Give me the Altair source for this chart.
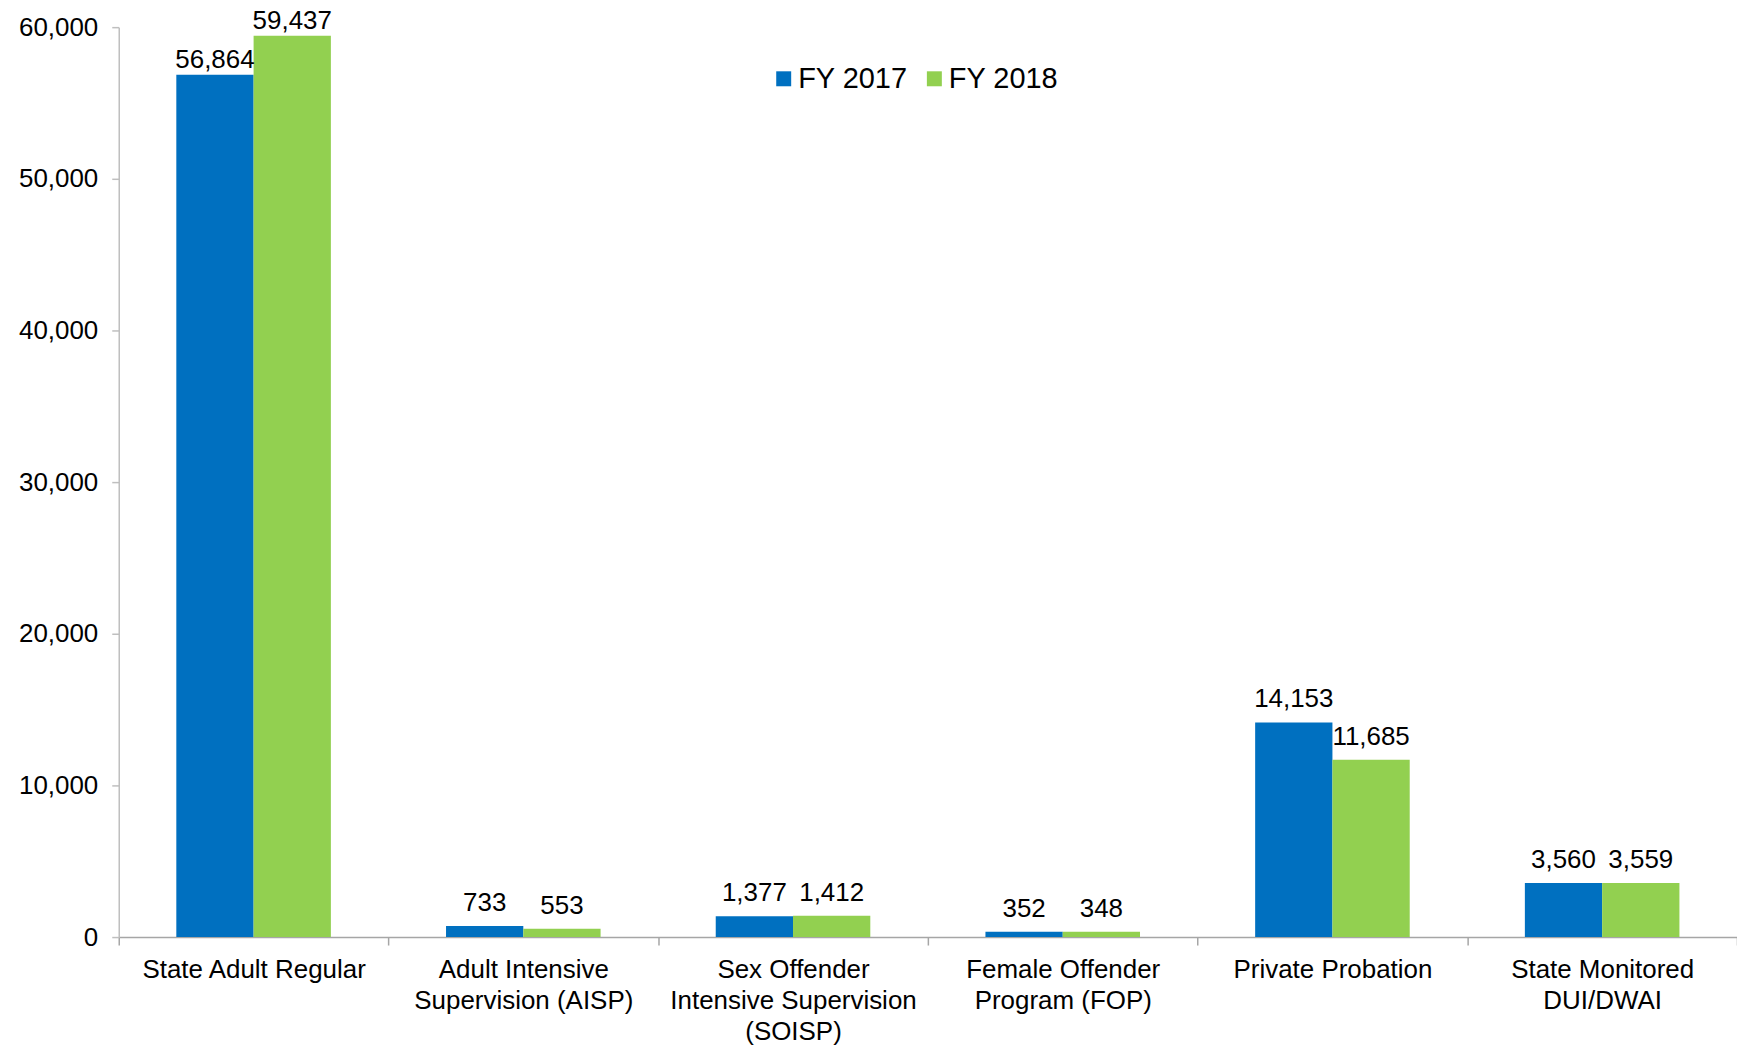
import altair as alt
import pandas as pd

categories = [
    "State Adult Regular",
    "Adult Intensive|Supervision (AISP)",
    "Sex Offender|Intensive Supervision|(SOISP)",
    "Female Offender|Program (FOP)",
    "Private Probation",
    "State Monitored|DUI/DWAI",
]
series = ["FY 2017", "FY 2018"]
fy2017 = [56864, 733, 1377, 352, 14153, 3560]
fy2018 = [59437, 553, 1412, 348, 11685, 3559]
y_ticks = [0, 10000, 20000, 30000, 40000, 50000, 60000]
colors = ["#0070C0", "#92D050"]

rows = []
for c, a, b in zip(categories, fy2017, fy2018):
    rows.append({"category": c, "series": series[0], "value": a})
    rows.append({"category": c, "series": series[1], "value": b})
df = pd.DataFrame(rows)

FONT = "Liberation Sans"

x_enc = alt.X(
    "category:N",
    sort=categories,
    scale=alt.Scale(paddingInner=0, paddingOuter=0),
    axis=alt.Axis(
        title=None,
        labelExpr="split(datum.label, '|')",
        labelFontSize=26,
        labelFont=FONT,
        labelColor="#000000",
        labelLineHeight=31,
        labelLimit=0,
        labelOverlap=False,
        labelPadding=12,
        labelAngle=0,
        tickBand="extent",
        tickSize=8,
        tickColor="#A6A6A6",
        tickWidth=1.5,
        domainColor="#A6A6A6",
        domainWidth=1.5,
    ),
)
xoff_enc = alt.XOffset(
    "series:N",
    sort=series,
    scale=alt.Scale(paddingInner=0, paddingOuter=0.745),
)
y_enc = alt.Y(
    "value:Q",
    scale=alt.Scale(domain=[0, 60000], nice=False),
    axis=alt.Axis(
        title=None,
        values=y_ticks,
        format=",.0f",
        grid=False,
        labelFontSize=26,
        labelFont=FONT,
        labelColor="#000000",
        labelPadding=14,
        tickSize=7,
        tickColor="#BFBFBF",
        tickWidth=1.5,
        domainColor="#BFBFBF",
        domainWidth=1.5,
    ),
)

base = alt.Chart(df)

bars = base.mark_bar(strokeWidth=0).encode(
    x=x_enc,
    xOffset=xoff_enc,
    y=y_enc,
    color=alt.Color(
        "series:N",
        sort=series,
        scale=alt.Scale(domain=series, range=colors),
        legend=alt.Legend(
            title=None,
            orient="none",
            legendX=652,
            legendY=37,
            direction="horizontal",
            symbolType="square",
            symbolSize=225,
            symbolStrokeWidth=0,
            labelFontSize=29,
            labelFont=FONT,
            labelColor="#000000",
            labelOffset=0,
            columnPadding=12,
            padding=0,
        ),
    ),
)

text_props = dict(font=FONT, fontSize=26, color="#000000", align="center", baseline="alphabetic")

labels_first = base.transform_filter(
    alt.datum.category == categories[0]
).mark_text(dy=-7, **text_props).encode(
    x=x_enc,
    xOffset=xoff_enc,
    y=y_enc,
    text=alt.Text("value:Q", format=","),
)

labels_rest = base.transform_filter(
    alt.datum.category != categories[0]
).mark_text(dy=-15, **text_props).encode(
    x=x_enc,
    xOffset=xoff_enc,
    y=y_enc,
    text=alt.Text("value:Q", format=","),
)

chart = alt.layer(bars, labels_first, labels_rest).properties(
    width=1622,
    height=912,
    autosize=alt.AutoSizeParams(type="none"),
    padding={"left": 111, "top": 18, "right": 0, "bottom": 109},
).configure(
    background="#FFFFFF",
    view=alt.ViewConfig(stroke=None),
)

chart.save("out.html", embed_options={"renderer": "svg", "actions": False})
